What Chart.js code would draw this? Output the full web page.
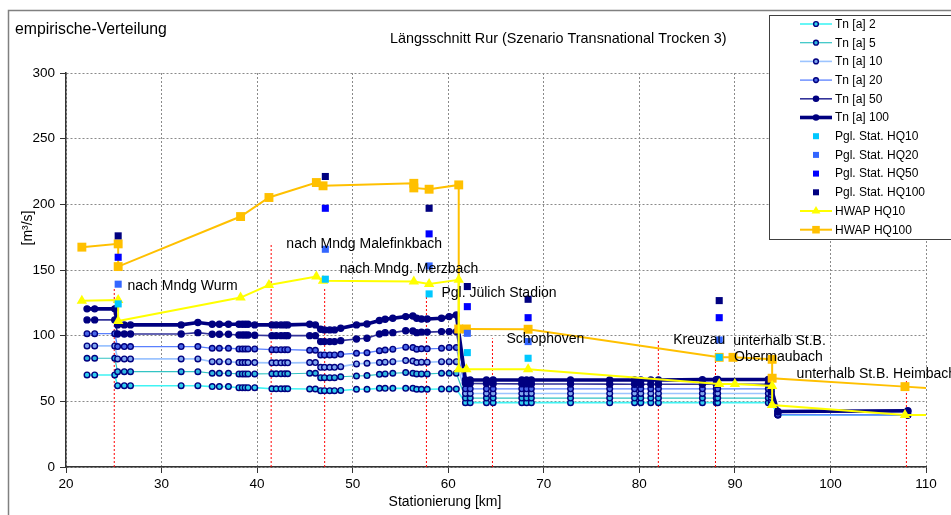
<!DOCTYPE html>
<html><head><meta charset="utf-8">
<script src="https://cdn.jsdelivr.net/npm/chart.js@4.4.1/dist/chart.umd.min.js"></script>
<style>html,body{margin:0;padding:0;background:#fff;}canvas{display:block;}</style>
</head><body>
<canvas id="c" width="951" height="515" style="width:951px;height:515px"></canvas>
<script>
// ---------- DATA ----------
const stations = [22.2, 23.0, 25.1, 25.4, 26.1, 26.75, 32.05, 33.8, 35.3, 36.05, 37.0, 38.1, 38.45, 38.75, 39.05, 39.75,
  41.55, 42.0, 42.5, 42.9, 43.2, 45.5, 46.1, 46.65, 47.05, 47.6, 48.1, 48.75, 50.4, 51.5, 52.8, 53.4, 54.2,
  55.55, 56.3, 56.7, 57.2, 57.8, 59.3, 60.1, 60.85, 61.8, 62.3, 64.0, 64.7, 67.7, 68.2, 68.7, 72.8, 76.9,
  79.5, 80.15, 81.2, 82.0, 86.6, 88.05, 88.2, 93.5, 93.8, 94.5, 108.1];

const tn100 = [120.4,120.4,120.4, 108.2,108.2,108.2, 108.2, 110.0, 108.7,108.7,108.7,108.7,108.7,108.7,108.7, 108.2,
  108.2,108.2,108.2,108.2,108.2, 108.7,108.2, 104.9,104.4,104.4,104.4,105.6, 108.2,108.9, 111.5,112.5,113.3,
  114.5,115.0,113.3,112.7,112.7, 113.3,114.5,115.8,
  66.3,66.3,66.3,66.3,66.3,66.3,66.3,66.3,66.3,66.3,66.3,66.3,66.3,66.5,66.5,66.6,66.6, 60.0, 42.3, 42.8];
const tn50 = [112.0,112.0,112.0, 101.3,101.3,101.3,101.3,102.3, 101.1,101.1,101.1, 100.5,100.5,100.5,100.5, 100.3,
  100.0,100.0,100.0,100.0,100.0, 100.0,100.0, 95.5,95.5,95.5,95.5,96.2, 97.5,98.0, 101.3,102.3,102.3,
  103.8,103.5,102.3,102.7,102.7, 103.1,103.1,103.1,
  63.8,63.6,63.5,63.4,63.3,63.3,63.2,63.2,63.1,63.0,63.0,63.0,63.0,63.0,63.0,63.0,63.0, 57.5, 42.0, 42.3];
const tn20 = [101.5,101.5,101.5, 91.7,91.7,91.7,91.7,91.7, 90.4,90.4,90.4, 89.9,89.9,89.9,89.9,89.9,
  89.3,89.3,89.3,89.3,89.3, 88.9,88.9, 85.3,85.3,85.3,85.3,85.8, 86.6,87.0, 88.6,89.1,89.7,
  91.2,90.9,89.7,90.0,90.0, 90.4,90.9,90.9,
  59.5,59.5,59.5,59.5,59.5,59.5,59.5,59.5,59.5,59.5,59.5,59.5,59.5,59.5,59.5,59.5,59.5, 55.0, 40.0, 39.6];
const tn10 = [92.2,92.2,92.2, 82.3,82.3,82.3,82.3,82.3, 80.2,80.2,80.2, 79.5,79.5,79.5,79.5,79.5,
  79.3,79.3,79.3,79.3,79.3, 79.5,79.5, 75.9,75.9,75.9,75.9,76.4, 78.5,79.0, 79.5,79.8,80.2,
  81.0,80.7,79.5,79.8,79.8, 80.2,80.2,80.2,
  56.0,56.0,56.0,56.0,56.0,56.0,56.0,56.0,56.0,56.0,56.0,56.0,56.0,56.0,56.0,56.0,56.0, 53.0, 39.8, 39.6];
const tn5 = [82.8,82.8,82.8, 72.6,72.6,72.6,72.6,72.6, 71.4,71.4,71.4, 70.9,70.9,70.9,70.9,70.9,
  71.0,71.0,71.0,71.0,71.0, 71.4,71.4, 68.0,68.0,68.0,68.0,68.7, 69.3,69.6, 70.6,70.9,71.4,
  71.9,71.4,70.9,70.9,70.9, 71.4,71.4,71.4,
  52.5,52.5,52.5,52.5,52.5,52.5,52.5,52.5,52.5,52.5,52.5,52.5,52.5,52.5,52.5,52.5,52.5, 51.0, 39.6, 39.6];
const tn2 = [70.1,70.1,70.1, 61.9,61.9,61.9,61.9,61.9, 61.2,61.2,61.2, 60.4,60.4,60.4,60.4,60.4,
  59.6,59.6,59.6,59.6,59.6, 59.4,59.4, 58.1,58.1,58.1,58.1,58.3, 59.2,59.2, 59.9,59.9,59.9,
  59.9,59.9,59.2,59.2,59.2, 59.4,59.4,59.4,
  49.0,49.0,49.0,49.0,49.0,49.0,49.0,49.0,49.0,49.0,49.0,49.0,49.0,49.0,49.0,49.0,49.0, 49.0, 39.5, 39.5];

const pglKm = [25.46, 47.14, 58.0, 62.0, 68.36, 88.36];
const pglHQ10 = [124.2, 143.0, 131.8, 87.1, 82.8, 83.5];
const pglHQ20 = [139.2, 165.8, 153.1, 101.8, 95.5, 96.7];
const pglHQ50 = [159.7, 197.0, 177.5, 122.1, 113.7, 113.7];
const pglHQ100 = [176.0, 221.2, 197.0, 137.4, 127.7, 126.7];

const hwap100Km = [21.66, 25.46, 25.46, 38.27, 41.24, 46.2, 46.9, 56.4, 56.4, 58.0, 61.1, 61.1, 61.9, 68.36, 88.36, 89.8, 93.9, 93.9, 107.8, 112.0];
const hwap100 = [167.4, 169.9, 152.6, 190.7, 205.2, 216.6, 214.1, 216.0, 212.5, 211.5, 214.8, 105.1, 105.1, 104.9, 83.5, 83.5, 82.0, 67.6, 61.2, 59.3];
const hwap10Km = [21.66, 25.46, 25.46, 38.27, 41.24, 46.2, 46.9, 56.4, 58.0, 61.1, 61.1, 61.9, 68.36, 88.36, 90.0, 93.9, 93.9, 107.8, 112.0];
const hwap10 = [126.5, 127.2, 111.2, 129.0, 138.6, 145.0, 141.9, 141.2, 139.4, 142.5, 74.4, 74.4, 74.4, 63.2, 63.2, 61.7, 47.2, 39.6, 39.6];

const leaderKm = [25.05, 41.47, 47.07, 57.72, 64.63, 81.99, 87.97, 107.95];
const leaderTop = [136.0, 170.6, 136.0, 129.7, 98.0, 96.7, 89.0, 66.3];

const siteNames = ['nach Mndg Wurm', 'nach Mndg Malefinkbach', 'nach Mndg. Merzbach', 'Pgl. Jülich Stadion',
  'Schophoven', 'Kreuzau', 'unterhalb St.B.', 'Obermaubach', 'unterhalb St.B. Heimbach'];
const siteKm = [26.44, 43.06, 48.64, 59.29, 66.1, 83.54, 89.82, 89.92, 96.46];
const siteVal = [137.4, 169.9, 150.6, 132.3, 97.3, 96.7, 96.0, 83.3, 70.6];

const xTicks = [20, 30, 40, 50, 60, 70, 80, 90, 100, 110];
const yTicks = [0, 50, 100, 150, 200, 250, 300];

// ---------- BUILD ----------
const FONT = '"Liberation Sans", Arial, sans-serif';
const pts = (xs, ys) => xs.map((x, i) => ({x: x, y: ys[i]}));
const NAVY = '#000080';

function tnSet(label, ys, color, width, fill, style, radius, order) {
  return {label, data: pts(stations, ys), borderColor: color, backgroundColor: color, borderWidth: width,
    pointStyle: style, pointRadius: radius, pointBorderWidth: 1.4, pointBorderColor: NAVY,
    pointBackgroundColor: fill, tension: 0, order, legendKind: 'line'};
}
function pglSet(label, ys, color) {
  return {label, data: pts(pglKm, ys), showLine: false, borderColor: color, backgroundColor: color,
    pointStyle: 'rect', pointRadius: 5, pointBorderWidth: 0, pointBackgroundColor: color, order: 1, legendKind: 'marker'};
}
const leaderData = [];
leaderKm.forEach((k, i) => { leaderData.push({x: k, y: 0}, {x: k, y: leaderTop[i]}, {x: k, y: null}); });

const datasets = [
  tnSet('Tn [a] 2', tn2, '#40F4F4', 1.6, '#30D0F0', 'circle', 2.8, 8),
  tnSet('Tn [a] 5', tn5, '#33C4C4', 1.2, '#30B8E0', 'circle', 2.8, 7),
  tnSet('Tn [a] 10', tn10, '#9CC4FF', 1.6, '#80A8F0', 'circle', 2.8, 6),
  tnSet('Tn [a] 20', tn20, '#5A80FF', 1.3, '#4A68E8', 'circle', 2.8, 5),
  tnSet('Tn [a] 50', tn50, '#333399', 1.6, NAVY, 'circle', 3, 4),
  tnSet('Tn [a] 100', tn100, NAVY, 3.6, NAVY, 'circle', 3, 3),
  pglSet('Pgl. Stat. HQ10', pglHQ10, '#00C8FF'),
  pglSet('Pgl. Stat. HQ20', pglHQ20, '#3366FF'),
  pglSet('Pgl. Stat. HQ50', pglHQ50, '#0000FF'),
  pglSet('Pgl. Stat. HQ100', pglHQ100, NAVY),
  {label: 'HWAP HQ10', data: pts(hwap10Km, hwap10), borderColor: '#FFFF00', backgroundColor: '#FFFF00', borderWidth: 2,
    pointStyle: 'triangle', pointRadius: 6, pointBorderWidth: 0, pointBackgroundColor: '#FFFF00', order: 2, legendKind: 'line'},
  {label: 'HWAP HQ100', data: pts(hwap100Km, hwap100), borderColor: '#FFC000', backgroundColor: '#FFC000', borderWidth: 2,
    pointStyle: 'rect', pointRadius: 6.3, pointBorderWidth: 0, pointBackgroundColor: '#FFC000', order: 2, legendKind: 'line'},
  {label: 'leader', data: leaderData, borderColor: '#FF0000', borderWidth: 1, borderDash: [2, 2], pointRadius: 0,
    spanGaps: false, order: 20, legendKind: 'none'}
];

const decor = {
  id: 'decor',
  beforeDraw(chart) {
    const c = chart.ctx;
    c.save();
    c.fillStyle = '#fff'; c.fillRect(0, 0, chart.width, chart.height);
    c.strokeStyle = '#808080'; c.lineWidth = 1.5;
    c.strokeRect(8.5, 10.5, 980, 540);
    c.fillStyle = '#000';
    c.textBaseline = 'alphabetic';
    c.textAlign = 'left';
    c.font = '15.8px ' + FONT;
    c.fillText('empirische-Verteilung', 15, 33.5);
    c.font = '14.4px ' + FONT;
    c.fillText('Längsschnitt Rur (Szenario Transnational Trocken 3)', 390, 43);
    c.font = '14px ' + FONT;
    c.save(); c.translate(32, 228); c.rotate(-Math.PI / 2); c.textAlign = 'center';
    c.fillText('[m³/s]', 0, 0); c.restore();
    c.textAlign = 'center';
    c.fillText('Stationierung [km]', 445, 506);
    c.restore();
  },
  afterDatasetsDraw(chart) {
    const c = chart.ctx, xs = chart.scales.x, ys = chart.scales.y;
    c.save();
    c.fillStyle = '#000'; c.font = '14px ' + FONT; c.textAlign = 'left'; c.textBaseline = 'middle';
    siteNames.forEach((t, i) => c.fillText(t, xs.getPixelForValue(siteKm[i]), ys.getPixelForValue(siteVal[i])));
    c.restore();
  },
  afterDraw(chart) {
    const c = chart.ctx;
    c.save();
    c.fillStyle = '#fff'; c.strokeStyle = '#404040'; c.lineWidth = 1;
    c.fillRect(769.5, 15.5, 200, 224); c.strokeRect(769.5, 15.5, 200, 224);
    const items = chart.data.datasets.filter(d => d.legendKind !== 'none');
    items.forEach((d, i) => {
      const y = 24 + i * 18.7;
      if (d.legendKind === 'line') {
        c.strokeStyle = d.borderColor; c.lineWidth = d.borderWidth; c.setLineDash([]);
        c.beginPath(); c.moveTo(800, y); c.lineTo(832, y); c.stroke();
      }
      c.fillStyle = d.pointBackgroundColor;
      c.strokeStyle = d.pointBorderColor || d.pointBackgroundColor;
      c.lineWidth = d.pointBorderWidth;
      Chart.helpers.drawPoint(c, {pointStyle: d.pointStyle, radius: d.pointRadius * 0.85, rotation: 0,
        borderWidth: d.pointBorderWidth}, 816, y);
      c.fillStyle = '#000'; c.font = '12px ' + FONT; c.textAlign = 'left'; c.textBaseline = 'middle';
      c.fillText(d.label, 835, y + 0.5);
    });
    c.restore();
  }
};

new Chart(document.getElementById('c'), {
  type: 'line',
  data: {datasets},
  options: {
    responsive: false, animation: false, devicePixelRatio: 1,
    layout: {padding: {top: 73, right: 25, left: 0, bottom: 0}},
    plugins: {legend: {display: false}, tooltip: {enabled: false}},
    elements: {line: {tension: 0}},
    scales: {
      x: {type: 'linear', min: 20, max: 110,
        afterBuildTicks(s) { s.ticks = xTicks.map(v => ({value: v})); },
        afterFit(s) { s.height = 48; },
        ticks: {color: '#000', font: {family: FONT, size: 13.5}, padding: 3, maxRotation: 0},
        grid: {color: '#8a8a8a', lineWidth: 1, tickLength: 6, tickColor: '#333', tickWidth: 1},
        border: {display: true, color: '#333', width: 1.5, dash: [2, 2]}},
      y: {type: 'linear', min: 0, max: 300,
        afterBuildTicks(s) { s.ticks = yTicks.map(v => ({value: v})); },
        afterFit(s) { s.width = 66; },
        ticks: {color: '#000', font: {family: FONT, size: 13.5}, padding: 5},
        grid: {color: '#8a8a8a', lineWidth: 1, tickLength: 6, tickColor: '#333', tickWidth: 1},
        border: {display: true, color: '#333', width: 1.5, dash: [2, 2]}}
    }
  },
  plugins: [decor]
});
</script>
</body></html>
